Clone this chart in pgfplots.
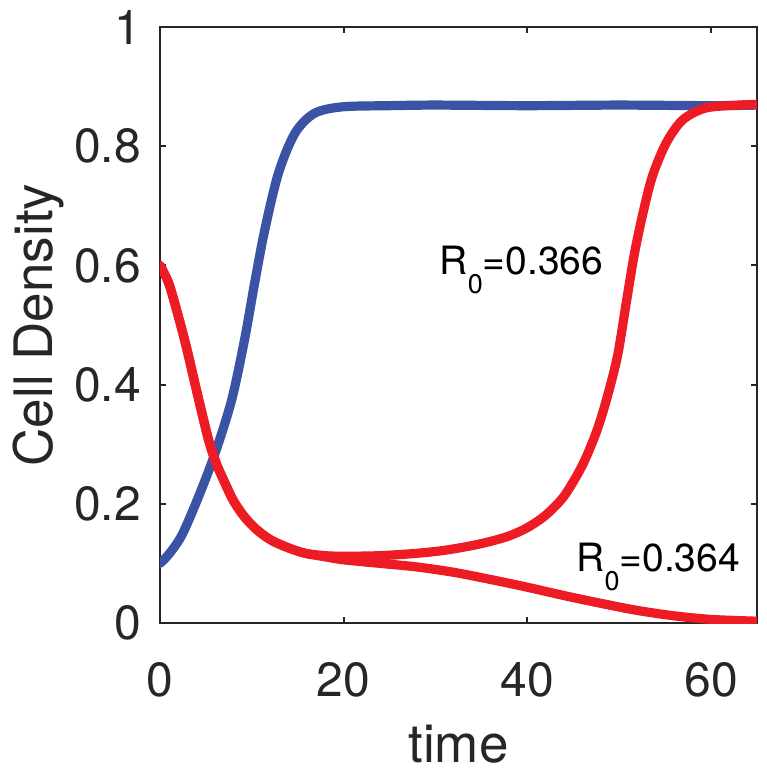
\documentclass[border=0pt]{standalone}
\usepackage{fontspec}
\setmainfont{TeX Gyre Heros}
\usepackage{pgfplots}
\pgfplotsset{compat=1.18}
\definecolor{cblue}{RGB}{58,83,164}
\definecolor{cred}{RGB}{237,28,36}
\definecolor{axgray}{RGB}{38,38,38}
\begin{document}
\begin{tikzpicture}
\begin{axis}[
  scale only axis,
  width=298.5pt, height=298pt,
  xmin=0, xmax=65, ymin=0, ymax=1,
  xtick={0,20,40,60},
  ytick={0,0.2,0.4,0.6,0.8,1},
  yticklabels={0,0.2,0.4,0.6,0.8,1},
  tick align=inside,
  major tick length=3pt,
  axis line style={axgray, line width=1pt},
  tick style={axgray, line width=1pt},
  /pgf/number format/assume math mode=true,
  tick label style={font=\fontsize{24}{28}\selectfont, text=axgray},
  label style={font=\fontsize{26.5}{30}\selectfont, text=axgray},
  xticklabel style={yshift=-16pt},
  yticklabel style={xshift=-6pt},
  xlabel={time},
  ylabel={Cell Density},
  xlabel style={yshift=-7pt},
  ylabel style={yshift=-2pt},
  every axis plot/.append style={line width=4.6pt, line join=round, line cap=round, smooth},
]
% blue population
\addplot[cblue] coordinates {
  (0,0.1) (1,0.116) (2.4,0.148) (4.2,0.212) (6,0.285) (7.8,0.374)
  (9.2,0.475) (10.3,0.57) (11.4,0.659) (12.9,0.755) (14.7,0.822)
  (16.8,0.855) (19.8,0.866) (25,0.868) (30,0.869) (40,0.868)
  (50,0.869) (60,0.868) (65,0.869)
};
% red, R0=0.364 (decays)
\addplot[cred] coordinates {
  (0,0.6) (1,0.568) (2.2,0.503) (3,0.455) (3.8,0.402) (4.6,0.35)
  (5.4,0.301) (6.2,0.265) (7.1,0.234) (8,0.205) (9.2,0.178)
  (10.5,0.157) (12.1,0.139) (14,0.126) (15.8,0.117) (18,0.111)
  (20,0.106) (24,0.1) (28,0.094) (32,0.085) (36,0.073) (40,0.06)
  (44,0.046) (48,0.033) (52,0.021) (56,0.012) (60,0.006) (65,0.003)
};
% red, R0=0.366 (recovers)
\addplot[cred] coordinates {
  (0,0.6) (1,0.568) (2.2,0.503) (3,0.455) (3.8,0.402) (4.6,0.35)
  (5.4,0.301) (6.2,0.265) (7.1,0.234) (8,0.205) (9.2,0.178)
  (10.5,0.157) (12.1,0.139) (14,0.126) (15.8,0.117) (18,0.113)
  (20,0.112) (24,0.113) (28,0.117) (31,0.122) (34,0.13) (36,0.137)
  (38,0.146) (40,0.16) (42,0.181) (44,0.213) (46,0.265) (47.5,0.32)
  (48.6,0.374) (49.8,0.447) (50.7,0.531) (51.6,0.615) (52.5,0.682)
  (53.6,0.749) (55.1,0.805) (56.9,0.844) (59.4,0.864) (63,0.869) (65,0.87)
};
\node[anchor=base west, inner sep=0pt, font=\fontsize{19.5}{22}\selectfont, text=black]
  at (axis cs:30.4,0.584) {R\raisebox{-9.5pt}{\fontsize{13.5}{14}\selectfont 0}=0.366};
\node[anchor=base west, inner sep=0pt, font=\fontsize{19.5}{22}\selectfont, text=black]
  at (axis cs:45.3,0.086) {R\raisebox{-9.5pt}{\fontsize{13.5}{14}\selectfont 0}=0.364};
\end{axis}
\path ([shift={(-80pt,-77.5pt)}]current axis.south west) rectangle ([shift={(5pt,13.5pt)}]current axis.north east);
\end{tikzpicture}
\end{document}
